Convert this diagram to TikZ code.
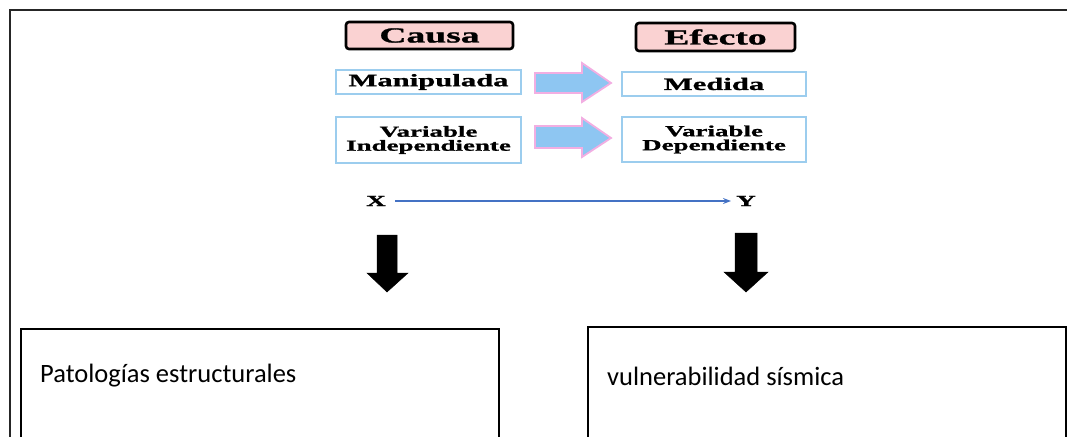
\documentclass[tikz,border=0pt]{standalone}
\usepackage{fontspec}
\setmainfont{Liberation Serif}
\newfontfamily\widefont[FakeStretch=1.75, BoldFeatures={FakeBold=1.2}]{Liberation Serif}
\newfontfamily\calfont{Carlito}
\usetikzlibrary{arrows.meta}
\definecolor{pinkfill}{HTML}{FAD2D2}
\definecolor{lightblue}{HTML}{9CCDEE}
\definecolor{arrowblue}{HTML}{8EC6F2}
\definecolor{arrowpink}{HTML}{F2AEE2}
\definecolor{lineblue}{HTML}{4472C4}
\tikzset{
  headbox/.style={draw=black, line width=2.6pt, fill=pinkfill, rounded corners=3pt,
    inner sep=0pt, font=\widefont\bfseries\fontsize{21.5}{23}\selectfont},
  varbox/.style={draw=lightblue, line width=2.4pt, fill=white, inner sep=0pt,
    align=center, font=\widefont\bfseries\fontsize{15.4}{15}\selectfont},
  blockarrow/.style={fill=arrowblue, draw=arrowpink, line width=1.8pt, line join=miter},
  downarrow/.style={fill=black, draw=black, line width=0.5pt},
  xylabel/.style={font=\widefont\bfseries\fontsize{15.5}{16}\selectfont, inner sep=1pt},
  bigbox/.style={draw=black, line width=2.4pt, fill=white, inner sep=0pt, anchor=north west},
  boxtext/.style={font=\calfont\fontsize{26.5}{30}\selectfont, anchor=west, inner sep=0pt},
}
\begin{document}
\begin{tikzpicture}[x=1pt,y=-1pt]
\useasboundingbox (0,0) rectangle (1067,436);
\clip (0,0) rectangle (1067,436);
% outer frame
\draw[line width=1.4pt, draw=black!85] (10,440) -- (10,10) -- (1070,10);
% header boxes
\node[headbox, minimum width=167pt, minimum height=27pt] (causa) at (429.5,35.5) {Causa};
\node[headbox, minimum width=159pt, minimum height=28pt] (efecto) at (715.5,37) {Efecto};
% variable boxes
\node[varbox, font=\widefont\bfseries\fontsize{17.5}{18}\selectfont, minimum width=185pt, minimum height=24pt] (manip) at (428.5,82) {Manipulada};
\node[varbox, font=\widefont\bfseries\fontsize{17.5}{18}\selectfont, minimum width=184pt, minimum height=24pt] (medida) at (714,84) {Medida};
\node[varbox, minimum width=185pt, minimum height=46pt] (vind) at (428.5,140) {Variable\\[-1pt]Independiente};
\node[varbox, minimum width=184pt, minimum height=45pt] (vdep) at (714,139.5) {Variable\\[-1pt]Dependiente};
% block arrows
\draw[blockarrow] (535,73) -- (582,73) -- (582,63) -- (611,83) -- (582,102) -- (582,93) -- (535,93) -- cycle;
\draw[blockarrow] (535,126) -- (582,126) -- (582,118) -- (611,138) -- (582,157) -- (582,148) -- (535,148) -- cycle;
% X -> Y
\node[xylabel] (X) at (376,201) {X};
\node[xylabel] (Y) at (746,201) {Y};
\draw[lineblue, line width=1.8pt, -{Stealth[length=8pt,width=6pt]}, shorten <=8pt, shorten >=4pt] (X) -- (Y);
% down arrows
\draw[downarrow] (377,235) -- (397,235) -- (397,273) -- (408,273) -- (387,292) -- (367,273) -- (377,273) -- cycle;
\draw[downarrow] (735,233) -- (757,233) -- (757,272) -- (768,272) -- (746,292) -- (724,272) -- (735,272) -- cycle;
% bottom boxes
\node[bigbox, minimum width=478pt, minimum height=140pt] (pat) at (20,328) {};
\node[bigbox, minimum width=478pt, minimum height=140pt] (vul) at (587,326) {};
\node[boxtext] (pattext) at (40,376) {Patologías estructurales};
\node[boxtext] (vultext) at (607,376) {vulnerabilidad sísmica};
\end{tikzpicture}
\end{document}
